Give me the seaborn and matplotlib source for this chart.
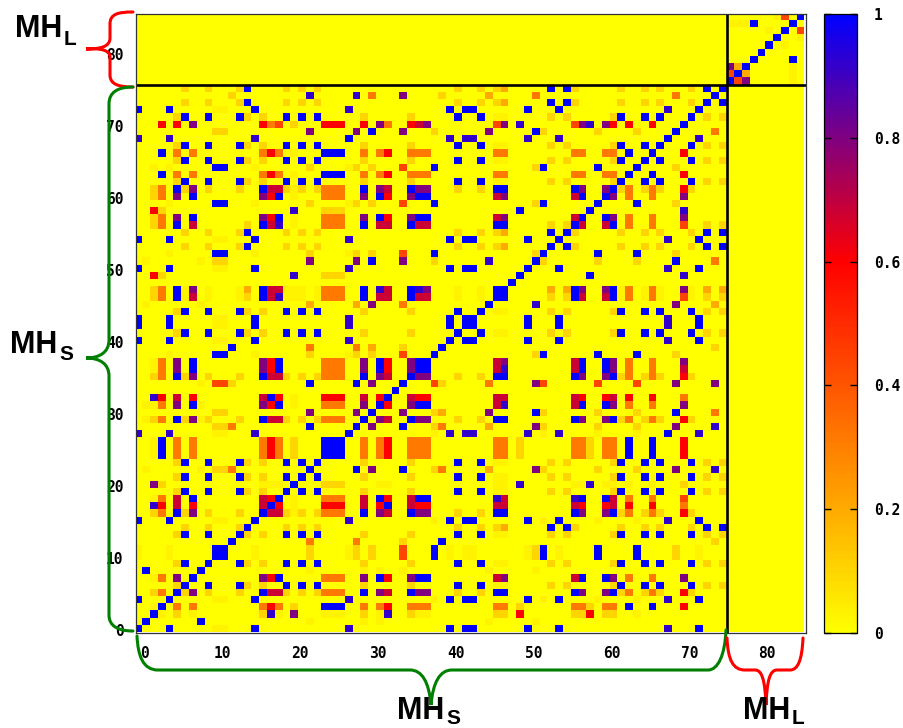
import numpy as np
import matplotlib
matplotlib.use('Agg')
import matplotlib.pyplot as plt
from matplotlib.colors import LinearSegmentedColormap
from matplotlib.path import Path
from matplotlib.patches import PathPatch
import seaborn as sns

n_cells = 86
split_at = 76

levels = {'f': 0.03, 'g': 0.1, 'a': 0.2, 'o': 0.32, 'R': 0.44, 'r': 0.6,
          'c': 0.68, 'p': 0.8, 'i': 0.92, 'b': 1.0}

# upper triangle: row -> "level cols; level cols"
group_b = "6 9 13 19 21 23 41 44 62 65 67 71"
row_b = "b " + group_b + "; g 5 14 16 29 35 53 55 61 73 75; f 46 47"
row_j = "b 0 4 15 40 42 43 50 54 72; i 27 68; f 10 11"
row_f = "b 10 11 38 52 59 64; g 22 28 30 51 69; R 34; f 4 15 27"
row_e = "b 24 25 26 63 66; o 5 7 16 18 29 31 35 36 37 46 47 56 57 60 61; r 17 32 70; g 20 49 58; f 2"
row_i = "b 22 28 34; p 30 51 69; i 74; g 10 11 38 52 59 64; o 12 39; a 45"
row_k = "b 14 53 55 73 75; g 46 56 " + group_b + "; a 47"

small_rows = {
    0: row_j, 4: row_j, 15: row_j, 40: row_j, 42: row_j, 43: row_j, 50: row_j, 54: row_j, 72: row_j,
    1: "b 1 8; f 22 29 31 45 51",
    8: "b 8; f 22 29 31 34 45 51",
    2: "b 2; g 5 16 29 35 46 47 56 57 60 61; f 7 18 31 36 37 64; i 17 32; p 20; r 49 58",
    3: "b 3; " + row_e,
    24: row_e, 25: row_e, 26: row_e,
    63: "b 63 66; r 70",
    66: "b 66; r 70",
    5: "b 5 16 29 35 46 47 56 61; o 24 25 26 63 66; p 7 31 36 37 57 60; c 17 18 32; g " + group_b + "; r 70",
    6: row_b, 9: row_b, 13: row_b, 19: row_b, 21: row_b, 23: row_b,
    41: row_b, 44: row_b, 62: row_b, 65: row_b, 67: row_b, 71: row_b,
    7: "b 7 18 31 36 37 57 60; p 16 29 35 47 61 70; r 17 32; o 24 25 26 63 66; c 46 56",
    10: row_f, 11: row_f, 38: row_f, 52: row_f, 59: row_f, 64: row_f,
    12: "b 12 39; o 22 28; g 34 74",
    39: "b 39; o 22 28; g 34 74",
    14: row_k, 53: row_k, 55: row_k, 73: row_k, 75: row_k,
    16: "b 16 29 35 46 47 56 61; c 17 18 32; p 31 36 37 57 60; o 24 25 26 63 66; r 70",
    17: "b 17 32; r 18 24 25 26 31 36 37 57 60 63 66; c 29 35 46 47 56 61; o 70",
    18: "b 18 31 36 37 57 60; c 29 35 47 61; i 46 56; o 24 25 26 63 66; R 70; r 32",
    20: "b 20; i 49 58; g 70 24 25 26; f 16 17 18 46 47 56 57 60 61 31 32 63 66",
    22: row_i, 28: row_i,
    34: "b 34; p 30 51 69 74; R 10 11 38 52 59 64; g 12 39; o 45",
    27: "b 27 68; i 40 42 43 50 54 72",
    68: "b 68; i 72",
    29: "b 29 35 46 47 56 61; p 31 36 37 57 60; c 32; o 63 66; g " + group_b + "; r 70",
    30: "b 30 51 69; p 22 28 34 45; g 10 11 38 52 59 64; a 39; o 74",
    31: "b 31 36 37 57 60; r 32; o 63 66; c 46 56; i 47; p 35 61 70",
    32: "b 32; c 35 46 47 56 61; r 36 37 57 60 63 66; o 70",
    33: "b 33",
    35: "b 35 46 47 56 61; p 36 37 57 60; o 63 66; r 70",
    36: "b 36 37 57 60; c 46 56 70; i 47; p 61; o 63 66",
    37: "b 37 57 60; c 46 56; p 47 61 70; o 63 66",
    45: "b 45; i 51; p 69; a 74",
    46: "b 46 47 56 61; c 57 60; o 63 66; R 70; g 53 55 73 75",
    47: "b 47 56 61; p 57 60; o 63 66; p 70; a 53 55 73 75",
    48: "b 48",
    49: "b 49 58; i 70; g 3 24 25 26",
    51: "b 51 69; g 52 59 64; o 74",
    56: "b 56 61; c 57 60; o 63 66; R 70; g 53 55 73 75",
    57: "b 57 60; p 61 70; o 63 66",
    58: "b 58; i 70",
    60: "b 60; p 61 70; o 63 66",
    61: "b 61; g 62 65 67 71; o 63 66; r 70",
    69: "b 69; o 74",
    70: "b 70",
    74: "b 74",
}
large_rows = {
    76: "b 76; R 77; p 78; f 84",
    77: "b 77; a 78; f 84",
    78: "b 78; f 84",
    79: "b 79 84",
    80: "b 80",
    81: "b 81; f 83",
    82: "b 82; f 85",
    83: "b 83; R 85",
    84: "b 84",
    85: "b 85",
}

x_ticks = [0, 10, 20, 30, 40, 50, 60, 70, 80]
y_ticks = [0, 10, 20, 30, 40, 50, 60, 70, 80]
cbar_ticks = [0, 0.2, 0.4, 0.6, 0.8, 1]
cbar_labels = ['0', '0.2', '0.4', '0.6', '0.8', '1']

matrix = np.zeros((n_cells, n_cells))
for rows in (small_rows, large_rows):
    for row, text in rows.items():
        for part in text.split(';'):
            bits = part.split()
            for col in bits[1:]:
                matrix[row, int(col)] = levels[bits[0]]
                matrix[int(col), row] = levels[bits[0]]

cmap = LinearSegmentedColormap.from_list('ybr', [(0, '#ffff00'), (0.6, '#ff0000'), (1, '#0000ff')], N=256)

W, H = 904, 728
fig = plt.figure(figsize=(W / 100, H / 100), dpi=100)
ax = fig.add_axes([136 / W, 1 - 633 / H, 670 / W, 619 / H])
cax = fig.add_axes([824 / W, 1 - 633 / H, 33 / W, 619 / H])

sns.heatmap(matrix, cmap=cmap, vmin=0, vmax=1, ax=ax, cbar_ax=cax,
            xticklabels=False, yticklabels=False, cbar_kws={'ticks': cbar_ticks})
ax.set_xlim(0.19, 86.2)
ax.set_ylim(-0.15, 85.8)

mono = dict(family='DejaVu Sans Mono', fontweight='bold', fontsize=10.5)
ax.set_xticks([t + 1.22 for t in x_ticks])
ax.set_xticklabels(x_ticks, rotation=0, **mono)
ax.set_yticks([t + 0.26 for t in y_ticks])
ax.set_yticklabels(y_ticks, rotation=0, **mono)
ax.tick_params(length=0, pad=9)
ax.axvline(split_at, color='black', lw=1.9)
ax.axhline(split_at, color='black', lw=1.9)
for s in ax.spines.values():
    s.set_visible(True)
    s.set_color('#333333')
    s.set_linewidth(0.9)

cax.set_yticks(cbar_ticks)
cax.set_yticklabels(cbar_labels, **mono)
cax.tick_params(axis='y', direction='in', length=5, width=1, left=True, right=True, pad=12)
cbar_outline = ax.collections[0].colorbar.outline
cbar_outline.set_edgecolor('black')
cbar_outline.set_linewidth(0.9)

# overlay in pixels for the braces and their labels
over = fig.add_axes([0, 0, 1, 1])
over.set_xlim(0, W)
over.set_ylim(H, 0)
over.axis('off')
over.patch.set_alpha(0)


def brace(start, segs, color):
    verts, codes = [start], [Path.MOVETO]
    for seg in segs:
        verts.extend(seg)
        codes.extend([Path.LINETO] if len(seg) == 1 else [Path.CURVE4] * 3)
    over.add_patch(PathPatch(Path(verts, codes), fc='none', ec=color, lw=2.2, capstyle='round'))


brace((133, 12), [[(118, 12), (110, 14), (110, 24)], [(110, 38)], [(110, 47), (100, 49), (86, 49)],
                  [(100, 48), (110, 50), (110, 57)], [(110, 75)], [(110, 84), (118, 87), (133, 87)]], 'red')
brace((133, 87), [[(118, 87), (109, 92), (109, 104)], [(109, 340)], [(109, 352), (100, 358), (86, 358)],
                  [(100, 358), (109, 364), (109, 376)], [(109, 615)], [(109, 626), (118, 631), (133, 631)]], 'green')
brace((137, 636), [[(138, 656), (143, 670), (158, 670)], [(410, 670)], [(422, 670), (429, 682), (431, 705)],
                   [(433, 682), (440, 670), (452, 670)], [(708, 670)], [(718, 670), (725, 655), (726, 630)]], 'green')
brace((727, 638), [[(728, 660), (733, 670), (745, 670)], [(755, 670)], [(762, 670), (765, 680), (766, 705)],
                   [(767, 680), (770, 670), (777, 670)], [(790, 670)], [(798, 670), (802, 660), (803, 638)]], 'red')

labels = [(15, 37, 45, 'L'), (10, 353, 360, 'S'), (397, 719, 724, 'S'), (743, 719, 724, 'L')]
for x, y, y_sub, sub in labels:
    over.text(x, y, 'MH', family='Liberation Sans', fontweight='bold', fontsize=22, ha='left', va='baseline')
    over.text(x + 49, y_sub, sub, family='Liberation Sans', fontweight='bold', fontsize=15, ha='left', va='baseline')

fig.savefig('out.png', dpi=100)
